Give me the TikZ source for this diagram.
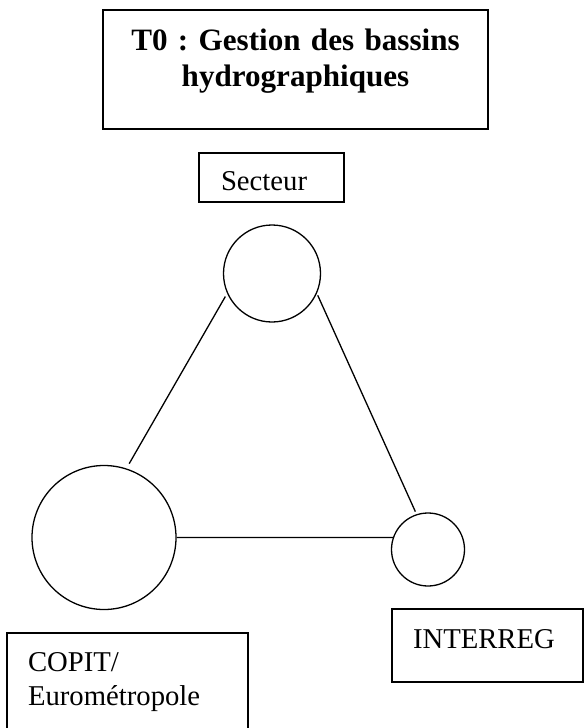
\documentclass[tikz,border=0pt]{standalone}
\usepackage{fontspec}
\setmainfont{Liberation Serif}
\usetikzlibrary{positioning}
\frenchspacing

\begin{document}
\begin{tikzpicture}[x=1pt,y=-1pt,
  boite/.style={draw,line width=1.4pt,rectangle,anchor=north west,outer sep=0pt,inner ysep=0pt,align=left,
    font=\fontsize{28.7}{34}\selectfont},
  rond/.style={draw,line width=1.3pt,circle,inner sep=0pt},
  lien/.style={line width=1.3pt}]
 \useasboundingbox (0,0) rectangle (584,728);
 % les cadres
 \node[boite,inner xsep=0pt,text width=385pt,align=center,text height=40pt,text depth=79pt,
   font=\fontsize{31.1}{36}\selectfont\bfseries\frenchspacing] (titre) at (103,10) {T0 : Gestion des bassins\\hydrographiques};
 \node[boite,inner xsep=22pt,text width=101pt,text height=37pt,text depth=12pt] (tSecteur) at (199,153) {Secteur};
 \node[boite,inner xsep=21pt,text width=199pt,text height=38pt,text depth=72pt] (tCopit) at (7,633) {COPIT/\\Eurométropole};
 \node[boite,inner xsep=21pt,text width=149pt,text height=39pt,text depth=34pt] (tInterreg) at (392,609) {INTERREG};
 % les ronds
 \node[rond,minimum size=97pt] (cSecteur) at (272,273.5) {};
 \node[rond,minimum size=144pt] (cCopit) at (104,537.5) {};
 \node[rond,minimum size=73pt] (cInterreg) at (428,549.5) {};
 % les liens
 \draw[lien,shorten <=3.5pt,shorten >=5.5pt] (cSecteur.204) -- (cCopit.72);
 \draw[lien,shorten <=2pt,shorten >=2.8pt] (cSecteur.-24) -- (cInterreg.108);
 \draw[lien] (cCopit.east) -- (cInterreg.161);
\end{tikzpicture}
\end{document}
